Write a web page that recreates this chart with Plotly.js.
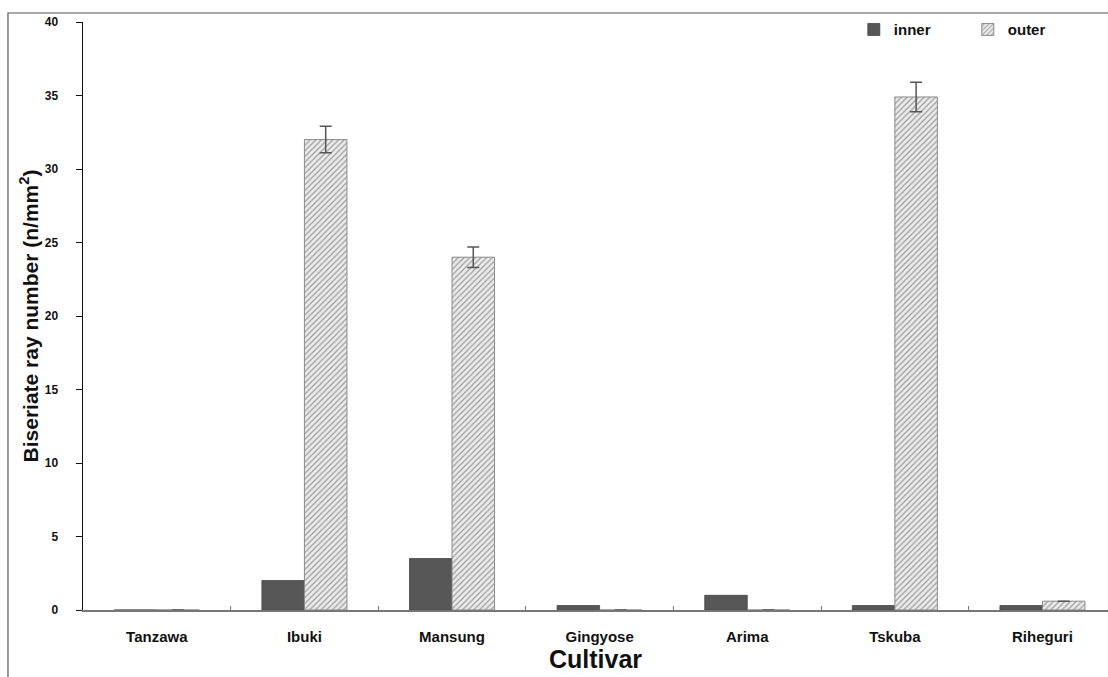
<!DOCTYPE html>
<html><head><meta charset="utf-8">
<script src="https://cdn.plot.ly/plotly-3.0.1.min.js"></script>
<style>html,body{margin:0;padding:0;background:#fff;overflow:hidden}#chart{width:1108px;height:677px}</style>
</head><body><div id="chart"></div>
<script>
const cultivars = ["Tanzawa","Ibuki","Mansung","Gingyose","Arima","Tskuba","Riheguri"];
const innerVals = [0, 2.0, 3.5, 0.3, 1.0, 0.3, 0.3];
const outerVals = [0, 32.0, 24.0, 0, 0, 34.9, 0.6];
const outerErr  = [0, 0.9, 0.7, 0, 0, 1.0, 0];

const fam = "Liberation Sans, Arial, sans-serif";

const traces = [
  {type: "bar", name: "inner", x: cultivars, y: innerVals,
   marker: {color: "#575757", line: {color: "#444", width: 0.8}}},
  {type: "bar", name: "outer", x: cultivars, y: outerVals,
   error_y: {type: "data", array: outerErr, visible: true, color: "#555", thickness: 1.5, width: 6},
   marker: {color: "#e6e6e6", line: {color: "#8a8a8a", width: 1},
            pattern: {shape: "/", fgcolor: "#9a9a9a", bgcolor: "#ececec", size: 4, solidity: 0.3}}}
];

const layout = {
  width: 1108, height: 677,
  margin: {l: 83, r: 0, t: 22, b: 67, autoexpand: false},
  paper_bgcolor: "#fff", plot_bgcolor: "#fff",
  barmode: "group", bargap: 0.424, bargroupgap: 0,
  font: {family: fam, color: "#111"},
  showlegend: true,
  legend: {orientation: "h", x: 0.752, y: 1.015, xanchor: "left", yanchor: "top",
           font: {family: fam, size: 15, weight: "bold", color: "#111"},
           entrywidth: 69, itemwidth: 30, bgcolor: "rgba(0,0,0,0)"},
  xaxis: {
    type: "category", range: [-0.5, 6.444], showline: true, linecolor: "#777", linewidth: 1.5,
    ticks: "inside", tickson: "boundaries", ticklen: 4, tickcolor: "#777",
    ticklabelstandoff: 12,
    tickfont: {family: fam, size: 15, weight: "bold", color: "#111"},
    title: {text: "Cultivar", font: {family: fam, size: 25, weight: "bold", color: "#111"}, standoff: 4},
    showgrid: false, zeroline: false, fixedrange: true
  },
  yaxis: {
    range: [0, 40], dtick: 5, showline: true, linecolor: "#111", linewidth: 1.5,
    ticks: "outside", ticklen: 6, tickcolor: "#111",
    ticklabelstandoff: 15,
    tickfont: {family: fam, size: 12, weight: "bold", color: "#111"},
    title: {text: "Biseriate ray number (n/mm<sup>2</sup>)", font: {family: fam, size: 21, weight: "bold", color: "#111"}, standoff: 0},
    showgrid: false, zeroline: false, fixedrange: true
  },
  shapes: [
    {type: "rect", xref: "paper", yref: "paper", x0: -0.0732, x1: 1.1, y0: -0.3, y1: 1.0153,
     line: {color: "#555", width: 1.2}, fillcolor: "rgba(0,0,0,0)", layer: "below"}
  ]
};

Plotly.newPlot("chart", traces, layout, {displayModeBar: false, staticPlot: true});
</script>
</body></html>
